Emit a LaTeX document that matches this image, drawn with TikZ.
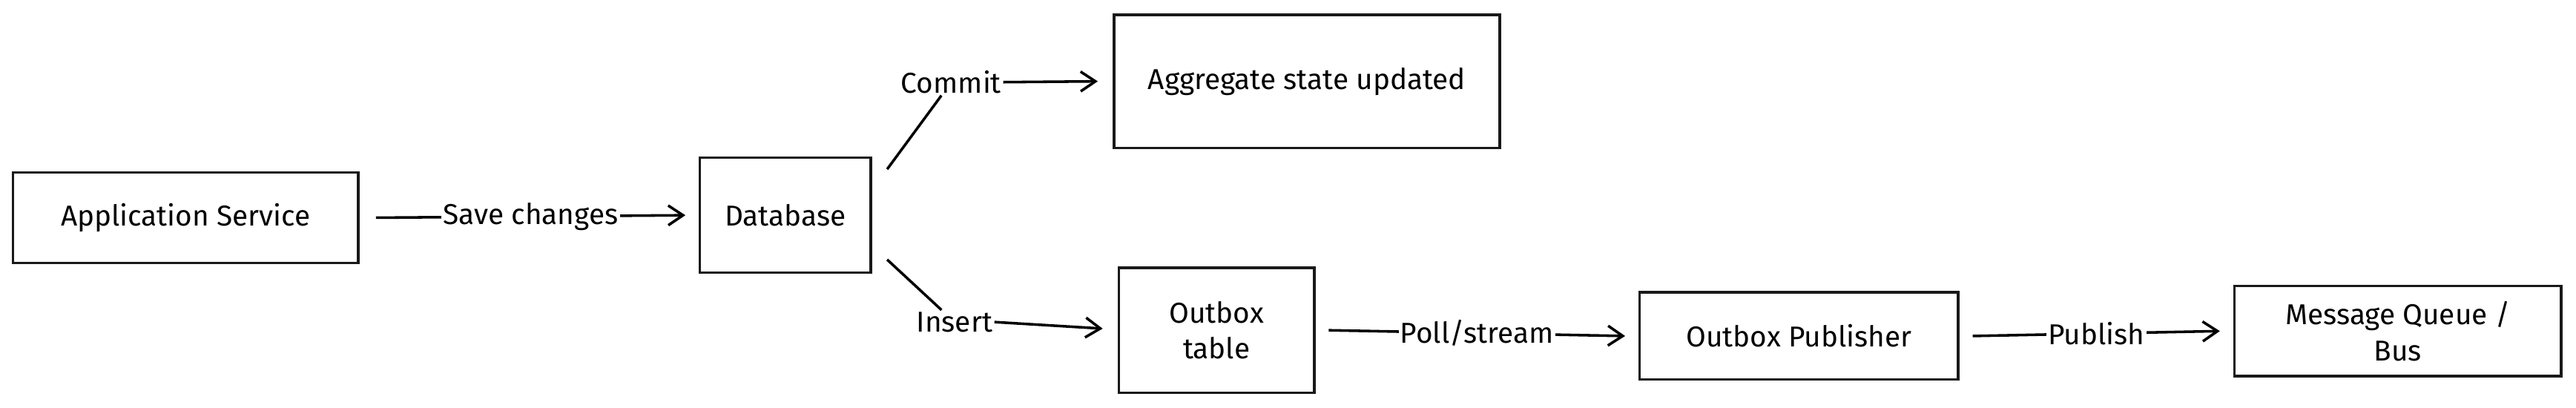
\documentclass[tikz,border=0pt]{standalone}
\usepackage{fontspec}
\setmainfont{Fira Sans}
\usetikzlibrary{arrows.meta}
\begin{document}
\begin{tikzpicture}[x=1pt,y=-1pt,
  box/.style={draw=black!90,line width=1.6pt,inner sep=0pt,align=center,font=\fontsize{17.5}{22}\selectfont},
  lbl/.style={fill=white,inner sep=1pt,font=\fontsize{17.5}{22}\selectfont},
  arr/.style={line width=1.6pt,-{Straight Barb[length=9pt,width=12pt,line width=1.6pt]}},
  ln/.style={line width=1.6pt}]
\useasboundingbox (0,0) rectangle (1568,248);
\node[box,minimum width=210,minimum height=55] (app) at (113,132.5) {Application Service};
\node[box,minimum width=104,minimum height=70] (db) at (478,131) {Database};
\node[box,minimum width=235,minimum height=81] (agg) at (795.5,49.5) {Aggregate state updated};
\node[box,minimum width=119,minimum height=76] (ob) at (740.5,201) {Outbox\\table};
\node[box,minimum width=194,minimum height=53] (pub) at (1095,204.5) {Outbox Publisher};
\node[box,minimum width=199,minimum height=55] (mq) at (1459.5,201.5) {Message Queue /\\Bus};
\coordinate (c1) at (540,103);
\coordinate (c2) at (540,158);
\node[lbl] (lc) at (579,50) {Commit};
\node[lbl] (li) at (581,196) {Insert};
\draw[ln] (c1) -- (lc);
\draw[arr] (lc.east) -- ([xshift=-9pt]agg.west);
\draw[ln] (c2) -- (li);
\draw[arr] (li.east) -- ([xshift=-9pt,yshift=1pt]ob.west);
\draw[arr] (app.east) ++(10,0) -- node[lbl]{Save changes} ([xshift=-8pt]db.west);
\draw[arr] (ob.east) ++(8,0) -- node[lbl]{Poll/stream} ([xshift=-8pt]pub.west);
\draw[arr] (pub.east) ++(8,0) -- node[lbl]{Publish} ([xshift=-8pt]mq.west);
\end{tikzpicture}
\end{document}
